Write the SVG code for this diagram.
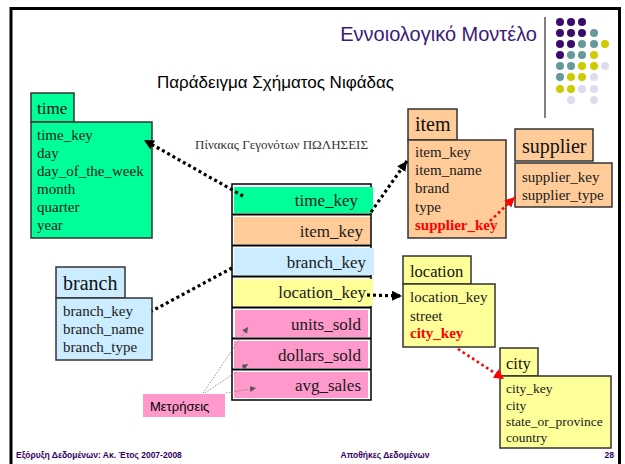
<svg xmlns="http://www.w3.org/2000/svg" width="625" height="464" viewBox="0 0 625 464">
<style>
.box{stroke:#333;stroke-width:1.5}
.hd{font-family:"Liberation Serif",serif;fill:#111}
.bd{font-family:"Liberation Serif",serif;font-size:15px;fill:#1a1a1a}
.sm{font-family:"Liberation Serif",serif;font-size:13.5px;fill:#1a1a1a}
.red{fill:#ff0000;font-weight:bold}
.fk{font-family:"Liberation Serif",serif;font-size:17px;fill:#1a1a1a;text-anchor:end}
.conn{fill:none;stroke:#000;stroke-width:3.2;stroke-dasharray:3 3}
.rconn{fill:none;stroke:#ff0000;stroke-width:2.6;stroke-dasharray:2.6 3}
.thin{fill:none;stroke:#777;stroke-width:0.8;stroke-dasharray:1.5 1.5}
.foot{font-family:"Liberation Sans",sans-serif;font-size:8.5px;font-weight:bold;fill:#330066}
.p{fill:#3a0a6e}.t{fill:#669999}.y{fill:#cccc00}.l{fill:#dcdcee}
</style>
<defs>
<marker id="ab" markerUnits="userSpaceOnUse" markerWidth="12" markerHeight="12" refX="10" refY="5" orient="auto"><path d="M0,0 L10,5 L0,10 z" fill="#000"/></marker>
<marker id="ar" markerUnits="userSpaceOnUse" markerWidth="12" markerHeight="12" refX="10" refY="5" orient="auto"><path d="M0,0 L10,5 L0,10 z" fill="#ff0000"/></marker>
<marker id="at" markerUnits="userSpaceOnUse" markerWidth="8" markerHeight="8" refX="6" refY="3" orient="auto"><path d="M0,0 L6,3 L0,6 z" fill="#555"/></marker>
</defs>
<rect width="625" height="464" fill="#fff"/>
<path d="M11,464 V8.5 H619.5 V464" fill="none" stroke="#000" stroke-width="3"/>
<text x="537" y="41" font-family="Liberation Sans,sans-serif" font-size="20" fill="#3c1a78" text-anchor="end">Εννοιολογικό Μοντέλο</text>
<line x1="545" y1="17" x2="545" y2="118" stroke="#808080" stroke-width="2"/>
<g id="dots">
<circle class="p" cx="560" cy="22" r="4"/><circle class="p" cx="571" cy="22" r="4"/><circle class="p" cx="582" cy="22" r="4"/>
<circle class="p" cx="560" cy="33" r="4"/><circle class="p" cx="571" cy="33" r="4"/><circle class="p" cx="582" cy="33" r="4"/><circle class="t" cx="594" cy="33" r="4"/>
<circle class="p" cx="560" cy="44" r="4"/><circle class="p" cx="571" cy="44" r="4"/><circle class="t" cx="582" cy="44" r="4"/><circle class="t" cx="594" cy="44" r="4"/><circle class="y" cx="605" cy="44" r="4"/>
<circle class="p" cx="560" cy="55" r="4"/><circle class="t" cx="571" cy="55" r="4"/><circle class="t" cx="582" cy="55" r="4"/><circle class="y" cx="594" cy="55" r="4"/>
<circle class="t" cx="560" cy="66" r="4"/><circle class="t" cx="571" cy="66" r="4"/><circle class="y" cx="582" cy="66" r="4"/><circle class="y" cx="594" cy="66" r="4"/><circle class="l" cx="605" cy="66" r="4"/>
<circle class="t" cx="560" cy="77" r="4"/><circle class="y" cx="571" cy="77" r="4"/><circle class="y" cx="582" cy="77" r="4"/><circle class="l" cx="594" cy="77" r="4"/>
<circle class="y" cx="560" cy="89" r="4"/><circle class="y" cx="571" cy="89" r="4"/><circle class="l" cx="582" cy="89" r="4"/><circle class="l" cx="594" cy="89" r="4"/>
<circle class="l" cx="571" cy="100" r="4"/><circle class="l" cx="594" cy="100" r="4"/>
</g>
<text x="157" y="88" font-family="Liberation Sans,sans-serif" font-size="17" fill="#000">Παράδειγμα Σχήματος Νιφάδας</text>
<text x="195" y="149" font-family="Liberation Serif,serif" font-size="13" fill="#333">Πίνακας Γεγονότων ΠΩΛΗΣΕΙΣ</text>

<g id="time">
<rect class="box" x="31" y="93" width="43" height="29" fill="#00ff99"/>
<rect class="box" x="31" y="122" width="121" height="116" fill="#00ff99"/>
<text class="hd" x="37" y="114" font-size="17">time</text>
<text class="bd" x="37" y="140">time_key</text>
<text class="bd" x="37" y="158">day</text>
<text class="bd" x="37" y="176">day_of_the_week</text>
<text class="bd" x="37" y="194">month</text>
<text class="bd" x="37" y="212">quarter</text>
<text class="bd" x="37" y="230">year</text>
</g>

<g id="branch">
<rect class="box" x="56" y="267" width="69" height="31" fill="#ccecff"/>
<rect class="box" x="56" y="298" width="96" height="62" fill="#ccecff"/>
<text class="hd" x="63" y="290" font-size="20">branch</text>
<text class="bd" x="63" y="316">branch_key</text>
<text class="bd" x="63" y="334">branch_name</text>
<text class="bd" x="63" y="352">branch_type</text>
</g>

<g id="item">
<rect class="box" x="408" y="109" width="49" height="31" fill="#ffcc99"/>
<rect class="box" x="408" y="140" width="98" height="98" fill="#ffcc99"/>
<text class="hd" x="415" y="131" font-size="20">item</text>
<text class="bd" x="415" y="157">item_key</text>
<text class="bd" x="415" y="175">item_name</text>
<text class="bd" x="415" y="193">brand</text>
<text class="bd" x="415" y="212">type</text>
<text class="bd red" x="415" y="230">supplier_key</text>
</g>

<g id="supplier">
<rect class="box" x="515" y="129" width="78" height="32" fill="#ffcc99"/>
<rect class="box" x="515" y="163" width="97" height="44" fill="#ffcc99"/>
<text class="hd" x="522" y="153" font-size="20">supplier</text>
<text class="bd" x="522" y="182">supplier_key</text>
<text class="bd" x="522" y="200">supplier_type</text>
</g>

<g id="location">
<rect class="box" x="403" y="256" width="68" height="28" fill="#ffff99"/>
<rect class="box" x="403" y="284" width="92" height="63" fill="#ffff99"/>
<text class="hd" x="410" y="277" font-size="16.5">location</text>
<text class="bd" x="410" y="302">location_key</text>
<text class="bd" x="410" y="321">street</text>
<text class="bd red" x="410" y="338">city_key</text>
</g>

<g id="city">
<rect class="box" x="500" y="348" width="38" height="28" fill="#ffff99"/>
<rect class="box" x="500" y="376" width="111" height="72" fill="#ffff99"/>
<text class="hd" x="506" y="369" font-size="16.5">city</text>
<text class="sm" x="506" y="393">city_key</text>
<text class="sm" x="506" y="410">city</text>
<text class="sm" x="506" y="426">state_or_province</text>
<text class="sm" x="506" y="442">country</text>
</g>

<g id="fact">
<rect x="232" y="184" width="139" height="216" fill="#fff" stroke="#000" stroke-width="1.5"/>
<rect x="234" y="187" width="139" height="26" fill="#00ff99"/>
<rect x="234" y="217" width="136" height="27" fill="#ffcc99"/>
<rect x="234" y="248" width="140" height="27" fill="#ccecff"/>
<rect x="234" y="279" width="139" height="27" fill="#ffff99"/>
<rect x="235" y="310" width="133" height="27" fill="#ff99cc"/>
<rect x="234" y="341" width="134" height="27" fill="#ff99cc"/>
<rect x="234" y="372" width="134" height="26" fill="#ff99cc"/>
<g stroke="#000" stroke-width="2">
<line x1="232" y1="214.5" x2="371" y2="214.5"/>
<line x1="232" y1="245.5" x2="371" y2="245.5"/>
<line x1="232" y1="276.5" x2="371" y2="276.5"/>
<line x1="232" y1="307.5" x2="371" y2="307.5"/>
<line x1="232" y1="338.5" x2="371" y2="338.5"/>
<line x1="232" y1="369.5" x2="371" y2="369.5"/>
</g>
<text class="fk" x="358" y="206">time_key</text>
<text class="fk" x="363" y="237">item_key</text>
<text class="fk" x="366" y="268">branch_key</text>
<text class="fk" x="366" y="298">location_key</text>
<text class="fk" x="361" y="330">units_sold</text>
<text class="fk" x="361" y="361">dollars_sold</text>
<text class="fk" x="361" y="391">avg_sales</text>
</g>

<g id="measures">
<rect x="143" y="394" width="82" height="23" fill="#ff99cc"/>
<text x="150" y="411" font-family="Liberation Sans,sans-serif" font-size="13" fill="#000">Μετρήσεις</text>
</g>

<g id="connectors">
<path class="conn" d="M243,196 L144,140" marker-end="url(#ab)"/>
<path class="conn" d="M371,212 L407,161" marker-end="url(#ab)"/>
<path class="conn" d="M232,268 L152,311"/>
<path class="conn" d="M367,295 L402,296" marker-end="url(#ab)"/>
<path class="rconn" d="M490,221 L515,197" marker-end="url(#ar)"/>
<path class="rconn" d="M458,349 L504,379" marker-end="url(#ar)"/>
<path class="thin" d="M203,393 L248,327" marker-end="url(#at)"/>
<path class="thin" d="M205,393 L248,364" marker-end="url(#at)"/>
<path class="thin" d="M226,393 L256,388" marker-end="url(#at)"/>
</g>

<text class="foot" x="16" y="458">Εξόρυξη Δεδομένων: Ακ. Έτος 2007-2008</text>
<text class="foot" x="385" y="458" text-anchor="middle">Αποθήκες Δεδομένων</text>
<text class="foot" x="614" y="458" text-anchor="end">28</text>
</svg>
